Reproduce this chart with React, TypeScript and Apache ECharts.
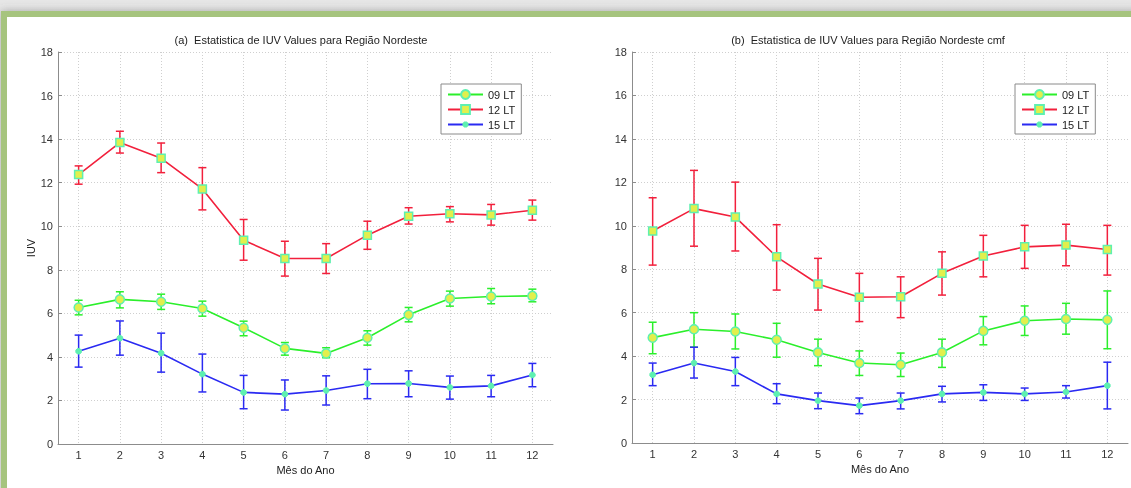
import React, { useEffect, useRef } from "react";
import * as echarts from "echarts";

const months = ["1", "2", "3", "4", "5", "6", "7", "8", "9", "10", "11", "12"];
const seriesNames = ["09 LT", "12 LT", "15 LT"];
const titleA = "(a)  Estatistica de IUV Values para Região Nordeste";
const titleB = "(b)  Estatistica de IUV Values para Região Nordeste cmf";
const xName = "Mês do Ano";
const yName = "IUV";

// Panel (a)
const a09 = [6.27, 6.64, 6.53, 6.22, 5.34, 4.39, 4.16, 4.88, 5.93, 6.68, 6.77, 6.8];
const a09Lo = [5.93, 6.25, 6.18, 5.87, 4.97, 4.08, 3.96, 4.54, 5.61, 6.33, 6.44, 6.53];
const a09Hi = [6.6, 6.99, 6.88, 6.56, 5.64, 4.66, 4.42, 5.2, 6.27, 7.02, 7.14, 7.11];
const a12 = [12.37, 13.84, 13.12, 11.71, 9.36, 8.52, 8.52, 9.59, 10.46, 10.57, 10.52, 10.73];
const a12Lo = [11.93, 13.36, 12.46, 10.75, 8.44, 7.71, 7.83, 8.94, 10.1, 10.2, 10.05, 10.28];
const a12Hi = [12.77, 14.36, 13.82, 12.69, 10.31, 9.31, 9.2, 10.23, 10.85, 10.9, 11.0, 11.2];
const a15 = [4.26, 4.86, 4.17, 3.21, 2.37, 2.29, 2.46, 2.77, 2.78, 2.6, 2.67, 3.17];
const a15Lo = [3.53, 4.08, 3.3, 2.39, 1.62, 1.56, 1.79, 2.08, 2.17, 2.06, 2.17, 2.63];
const a15Hi = [5.0, 5.65, 5.09, 4.13, 3.15, 2.94, 3.13, 3.43, 3.36, 3.12, 3.15, 3.7];

// Panel (b)
const b09 = [4.85, 5.24, 5.13, 4.75, 4.17, 3.68, 3.6, 4.17, 5.16, 5.63, 5.71, 5.67];
const b09Lo = [4.11, 4.41, 4.33, 3.95, 3.56, 3.11, 3.06, 3.48, 4.52, 4.95, 5.01, 4.34];
const b09Hi = [5.56, 6.0, 5.94, 5.51, 4.78, 4.24, 4.14, 4.78, 5.82, 6.31, 6.43, 7.0];
const b12 = [9.76, 10.79, 10.4, 8.57, 7.32, 6.71, 6.73, 7.81, 8.61, 9.03, 9.11, 8.91];
const b12Lo = [8.19, 9.06, 8.84, 7.04, 6.12, 5.59, 5.77, 6.81, 7.65, 8.04, 8.16, 7.73];
const b12Hi = [11.29, 12.55, 12.01, 10.05, 8.5, 7.81, 7.65, 8.8, 9.56, 10.02, 10.07, 10.02];
const b15 = [3.14, 3.68, 3.29, 2.26, 1.95, 1.72, 1.95, 2.26, 2.33, 2.26, 2.35, 2.64];
const b15Lo = [2.64, 2.99, 2.64, 1.81, 1.58, 1.35, 1.57, 1.89, 1.96, 1.96, 2.07, 1.57];
const b15Hi = [3.68, 4.41, 3.94, 2.73, 2.3, 2.07, 2.3, 2.61, 2.68, 2.53, 2.64, 3.72];

const FONT = "'Liberation Sans', Arial, sans-serif";
const GREEN = "#2bef2b";
const RED = "#f2203c";
const BLUE = "#2a2af2";
const MFILL = "#e2ef4c";
const MEDGE = "#5ef0b0";
// small octagon centred in a 10x10 box (the lone moveTo points keep the box size)
const SMALL_DOT =
  "path://M0,0 M10,10 M7.3,5.96 L5.96,7.3 L4.04,7.3 L2.7,5.96 L2.7,4.04 L4.04,2.7 L5.96,2.7 L7.3,4.04 Z";

function errRender(color: string) {
  return (params: any, api: any) => {
    const x = api.value(0);
    const lo = api.coord([x, api.value(1)]);
    const hi = api.coord([x, api.value(2)]);
    const hw = 4;
    const st = { stroke: color, lineWidth: 1.5 };
    return {
      type: "group",
      children: [
        { type: "line", shape: { x1: lo[0], y1: lo[1], x2: hi[0], y2: hi[1] }, style: st },
        { type: "line", shape: { x1: lo[0] - hw, y1: lo[1], x2: lo[0] + hw, y2: lo[1] }, style: st },
        { type: "line", shape: { x1: hi[0] - hw, y1: hi[1], x2: hi[0] + hw, y2: hi[1] }, style: st },
      ],
    };
  };
}

function errData(lo: number[], hi: number[]) {
  return lo.map((l, i) => [i, l, hi[i]]);
}

export default function App() {
  const ref = useRef<HTMLDivElement>(null);
  useEffect(() => {
    if (!ref.current) return;
    const chart = echarts.init(ref.current, undefined, { renderer: "svg" });

    const grids = [
      { left: 58, top: 52, width: 495, height: 392 },
      { left: 632, top: 52, width: 496, height: 391 },
    ];

    const xAxes = grids.map((_, gi) => ({
      type: "category",
      gridIndex: gi,
      data: months,
      boundaryGap: true,
      name: xName,
      nameLocation: "middle",
      nameGap: 18,
      nameTextStyle: { fontFamily: FONT, fontSize: 11, color: "#222" },
      axisLine: { lineStyle: { color: "#8c8c8c", width: 1 } },
      axisTick: { alignWithLabel: true, inside: true, length: 4, lineStyle: { color: "#8c8c8c" } },
      axisLabel: { fontFamily: FONT, fontSize: 11, color: "#333", margin: 5 },
      splitLine: { show: true, alignWithLabel: true, lineStyle: { color: "#cfcfcf", type: [1, 2], width: 1 } },
    }));

    const yAxes = grids.map((_, gi) => ({
      type: "value",
      gridIndex: gi,
      min: 0,
      max: 18,
      interval: 2,
      name: gi === 0 ? yName : "",
      nameLocation: "middle",
      nameGap: 20,
      nameTextStyle: { fontFamily: FONT, fontSize: 11, color: "#222" },
      axisLine: { show: true, lineStyle: { color: "#8c8c8c", width: 1 } },
      axisTick: { show: true, inside: true, length: 4, lineStyle: { color: "#8c8c8c" } },
      axisLabel: { fontFamily: FONT, fontSize: 11, color: "#333", margin: 5 },
      splitLine: { show: true, lineStyle: { color: "#cfcfcf", type: [1, 2], width: 1 } },
    }));

    const panels = [
      { v09: a09, lo09: a09Lo, hi09: a09Hi, v12: a12, lo12: a12Lo, hi12: a12Hi, v15: a15, lo15: a15Lo, hi15: a15Hi },
      { v09: b09, lo09: b09Lo, hi09: b09Hi, v12: b12, lo12: b12Lo, hi12: b12Hi, v15: b15, lo15: b15Lo, hi15: b15Hi },
    ];

    const series: any[] = [];
    panels.forEach((p, gi) => {
      const defs = [
        { name: seriesNames[0], v: p.v09, lo: p.lo09, hi: p.hi09, color: GREEN, symbol: "circle", size: 9, fill: MFILL, bw: 1.5 },
        { name: seriesNames[1], v: p.v12, lo: p.lo12, hi: p.hi12, color: RED, symbol: "rect", size: 8, fill: MFILL, bw: 1.5 },
        { name: seriesNames[2], v: p.v15, lo: p.lo15, hi: p.hi15, color: BLUE, symbol: SMALL_DOT, size: 12, fill: MEDGE, bw: 1 },
      ];
      defs.forEach((d) => {
        series.push({
          type: "custom",
          xAxisIndex: gi,
          yAxisIndex: gi,
          renderItem: errRender(d.color),
          encode: { x: 0, y: [1, 2] },
          data: errData(d.lo, d.hi),
          silent: true,
          z: 2,
        });
      });
      defs.forEach((d) => {
        series.push({
          type: "line",
          name: d.name,
          xAxisIndex: gi,
          yAxisIndex: gi,
          data: d.v,
          symbol: d.symbol,
          symbolSize: d.size,
          showAllSymbol: true,
          lineStyle: { color: d.color, width: 1.6 },
          itemStyle: { color: d.fill, borderColor: MEDGE, borderWidth: d.bw },
          z: 3,
        });
      });
    });

    const legendBase = {
      data: seriesNames,
      orient: "vertical",
      top: 84,
      itemWidth: 35,
      itemHeight: 11,
      itemGap: 4,
      padding: [5, 6, 4, 6],
      borderColor: "#8a8a8a",
      borderWidth: 1,
      backgroundColor: "#ffffff",
      selectedMode: false,
      textStyle: { fontFamily: FONT, fontSize: 11, color: "#222", lineHeight: 11 },
    };

    chart.setOption({
      animation: false,
      textStyle: { fontFamily: FONT },
      grid: grids,
      xAxis: xAxes,
      yAxis: yAxes,
      legend: [
        { ...legendBase, left: 441 },
        { ...legendBase, left: 1015 },
      ],
      graphic: [
        {
          type: "rect",
          z: -100,
          silent: true,
          shape: { x: 0, y: 0, width: 1131, height: 488 },
          style: {
            fill: new echarts.graphic.LinearGradient(0, 0, 0, 1, [
              { offset: 0, color: "#e6e6e6" },
              { offset: 1, color: "#f4f4f4" },
            ]),
          },
        },
        {
          type: "rect",
          z: -99,
          silent: true,
          shape: { x: 4, y: 14, width: 1200, height: 600 },
          style: {
            fill: "#ffffff",
            stroke: "#a6c47e",
            lineWidth: 6,
            shadowBlur: 8,
            shadowColor: "rgba(90,90,90,0.45)",
          },
        },
        {
          type: "text",
          z: 100,
          x: 301,
          y: 40,
          style: { text: titleA, font: `11px ${FONT}`, fill: "#222", textAlign: "center", textVerticalAlign: "middle" },
        },
        {
          type: "text",
          z: 100,
          x: 868,
          y: 40,
          style: { text: titleB, font: `11px ${FONT}`, fill: "#222", textAlign: "center", textVerticalAlign: "middle" },
        },
      ],
      series,
    });
    return () => chart.dispose();
  }, []);

  return <div ref={ref} style={{ position: "fixed", left: 0, top: 0, width: 1131, height: 488 }} />;
}
